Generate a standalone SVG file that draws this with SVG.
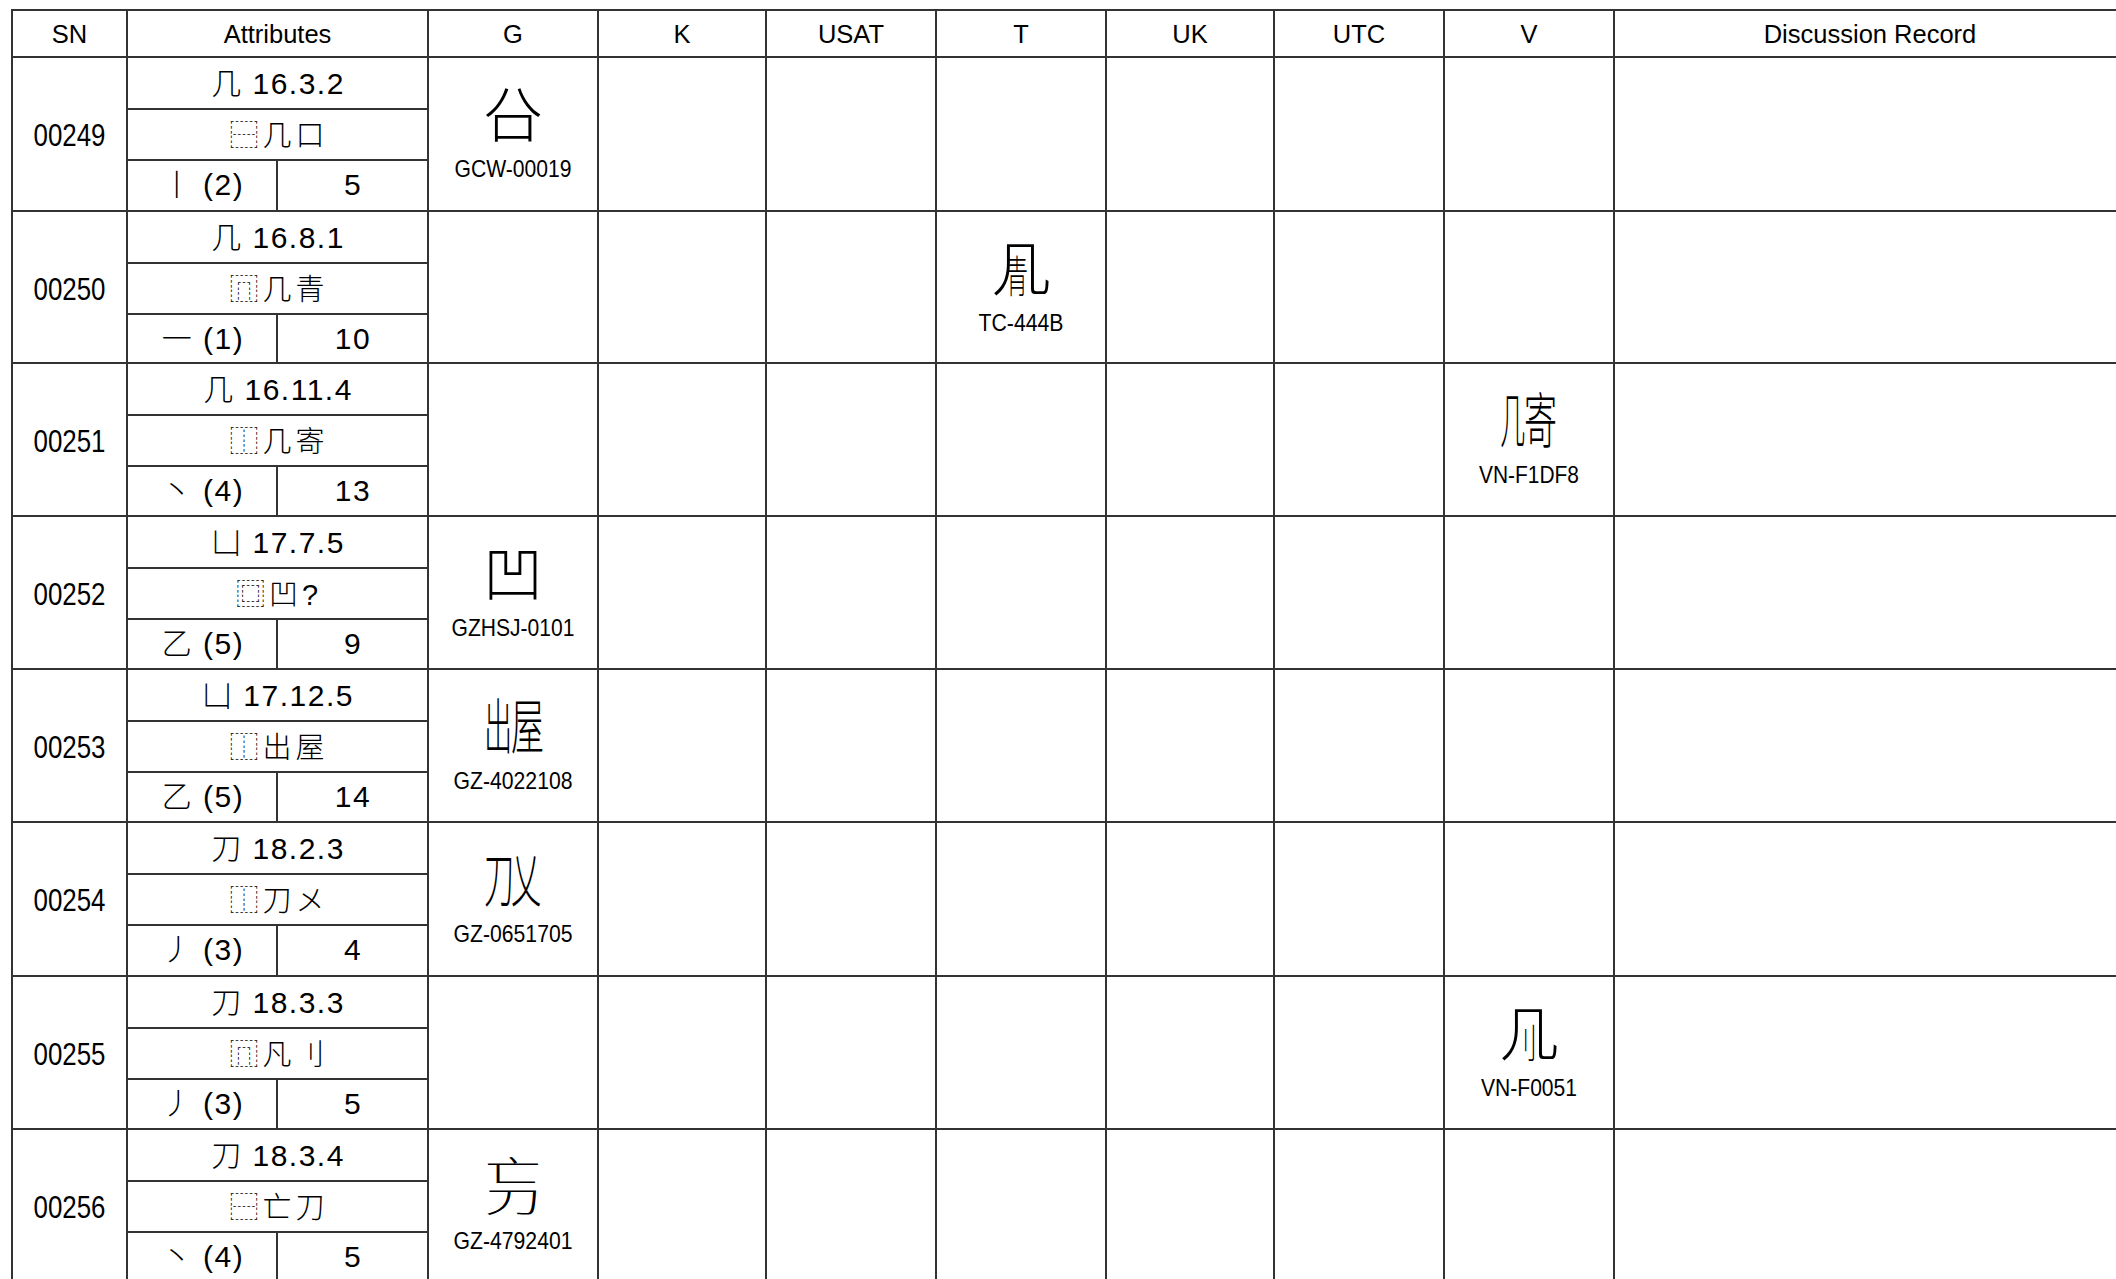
<svg xmlns="http://www.w3.org/2000/svg" width="2116" height="1279" viewBox="0 0 2116 1279">
<style>
.ln{stroke:#333;stroke-width:2;fill:none}
text{font-family:"Liberation Sans","Noto Sans CJK SC",sans-serif;fill:#000;text-anchor:middle}
.h{font-size:25.5px}
.sn{font-size:31px}
.a{font-size:30px;letter-spacing:1.5px;font-weight:300}
.ids{font-size:29px;letter-spacing:4px;font-weight:300}
.big{font-family:"Noto Sans CJK SC",sans-serif;font-size:60px;font-weight:300}
.st{text-anchor:start}
.code{font-size:24px}
</style>
<rect width="2116" height="1279" fill="#fff"/>
<g id="grid">
<path class="ln" d="M11 10H2116M11 57H2116M11 211H2116M11 363H2116M11 516H2116M11 669H2116M11 822H2116M11 976H2116M11 1129H2116"/>
<path class="ln" d="M127 109H428M127 160H428M127 263H428M127 314H428M127 415H428M127 466H428M127 568H428M127 619H428M127 721H428M127 772H428M127 874H428M127 925H428M127 1028H428M127 1079H428M127 1181H428M127 1232H428"/>
<path class="ln" d="M12 9V1279M127 9V1279M428 9V1279M598 9V1279M766 9V1279M936 9V1279M1106 9V1279M1274 9V1279M1444 9V1279M1614 9V1279"/>
<path class="ln" d="M277 160V211M277 314V363M277 466V516M277 619V669M277 772V822M277 925V976M277 1079V1129M277 1232V1279"/>
</g>
<g id="header">
<text class="h" x="69.5" y="43">SN</text>
<text class="h" x="277.5" y="43">Attributes</text>
<text class="h" x="513" y="43">G</text>
<text class="h" x="682" y="43">K</text>
<text class="h" x="851" y="43">USAT</text>
<text class="h" x="1021" y="43">T</text>
<text class="h" x="1190" y="43">UK</text>
<text class="h" x="1359" y="43">UTC</text>
<text class="h" x="1529" y="43">V</text>
<text class="h" x="1870" y="43">Discussion Record</text>
</g>
<g id="row-00249">
<text class="sn" x="69.5" y="146" textLength="72" lengthAdjust="spacingAndGlyphs">00249</text>
<text class="a" x="278" y="94">几 16.3.2</text>
<text class="ids" x="279" y="145.5">⿱几口</text>
<text class="a" x="203" y="195">丨 (2)</text>
<text class="a" x="353" y="195">5</text>
<text class="big" x="513" y="137">㕣</text>
<text class="code" x="513" y="177" textLength="117" lengthAdjust="spacingAndGlyphs">GCW-00019</text>
</g>
<g id="row-00250">
<text class="sn" x="69.5" y="300" textLength="72" lengthAdjust="spacingAndGlyphs">00250</text>
<text class="a" x="278" y="248">几 16.8.1</text>
<text class="ids" x="279" y="299.5">⿵几青</text>
<text class="a" x="203" y="349">一 (1)</text>
<text class="a" x="353" y="349">10</text>
<text class="big" x="1021" y="291">几</text>
<text class="big" style="font-size:44px" transform="translate(1017 293) scale(0.5 1)">青</text>
<text class="code" x="1021" y="331" textLength="85" lengthAdjust="spacingAndGlyphs">TC-444B</text>
</g>
<g id="row-00251">
<text class="sn" x="69.5" y="452" textLength="72" lengthAdjust="spacingAndGlyphs">00251</text>
<text class="a" x="278" y="400">几 16.11.4</text>
<text class="ids" x="279" y="451.5">⿰几寄</text>
<text class="a" x="203" y="501">丶 (4)</text>
<text class="a" x="353" y="501">13</text>
<text class="big st" transform="translate(1500 443) scale(0.42 1)">几</text>
<text class="big st" transform="translate(1524 443) scale(0.55 1)">寄</text>
<text class="code" x="1529" y="483" textLength="100" lengthAdjust="spacingAndGlyphs">VN-F1DF8</text>
</g>
<g id="row-00252">
<text class="sn" x="69.5" y="605" textLength="72" lengthAdjust="spacingAndGlyphs">00252</text>
<text class="a" x="278" y="553">凵 17.7.5</text>
<text class="ids" x="279" y="604.5">⿴凹?</text>
<text class="a" x="203" y="654">乙 (5)</text>
<text class="a" x="353" y="654">9</text>
<text class="big" x="513" y="596">凹</text>
<text class="code" x="513" y="636" textLength="123" lengthAdjust="spacingAndGlyphs">GZHSJ-0101</text>
</g>
<g id="row-00253">
<text class="sn" x="69.5" y="758" textLength="72" lengthAdjust="spacingAndGlyphs">00253</text>
<text class="a" x="278" y="706">凵 17.12.5</text>
<text class="ids" x="279" y="757.5">⿰出屋</text>
<text class="a" x="203" y="807">乙 (5)</text>
<text class="a" x="353" y="807">14</text>
<text class="big st" transform="translate(484 749) scale(0.47 1)">出</text>
<text class="big st" transform="translate(511 749) scale(0.55 1)">屋</text>
<text class="code" x="513" y="789" textLength="119" lengthAdjust="spacingAndGlyphs">GZ-4022108</text>
</g>
<g id="row-00254">
<text class="sn" x="69.5" y="911" textLength="72" lengthAdjust="spacingAndGlyphs">00254</text>
<text class="a" x="278" y="859">刀 18.2.3</text>
<text class="ids" x="279" y="910.5">⿰刀メ</text>
<text class="a" x="203" y="960">丿 (3)</text>
<text class="a" x="353" y="960">4</text>
<text class="big st" transform="translate(484 902) scale(0.5 1)">刀</text>
<text class="big st" transform="translate(511 902) scale(0.5 1)">乂</text>
<text class="code" x="513" y="942" textLength="119" lengthAdjust="spacingAndGlyphs">GZ-0651705</text>
</g>
<g id="row-00255">
<text class="sn" x="69.5" y="1065" textLength="72" lengthAdjust="spacingAndGlyphs">00255</text>
<text class="a" x="278" y="1013">刀 18.3.3</text>
<text class="ids" x="279" y="1064.5">⿵凡刂</text>
<text class="a" x="203" y="1114">丿 (3)</text>
<text class="a" x="353" y="1114">5</text>
<text class="big" x="1529" y="1056">几</text>
<text class="big" style="font-size:40px" transform="translate(1525 1058) scale(0.6 1)">刂</text>
<text class="code" x="1529" y="1096" textLength="96" lengthAdjust="spacingAndGlyphs">VN-F0051</text>
</g>
<g id="row-00256">
<text class="sn" x="69.5" y="1218" textLength="72" lengthAdjust="spacingAndGlyphs">00256</text>
<text class="a" x="278" y="1166">刀 18.3.4</text>
<text class="ids" x="279" y="1217.5">⿱亡刀</text>
<text class="a" x="203" y="1267">丶 (4)</text>
<text class="a" x="353" y="1267">5</text>
<text class="big" writing-mode="tb" style="font-size:57px" transform="translate(513 1186) scale(1 0.526)">亡刀</text>
<text class="code" x="513" y="1249" textLength="119" lengthAdjust="spacingAndGlyphs">GZ-4792401</text>
</g>
</svg>
